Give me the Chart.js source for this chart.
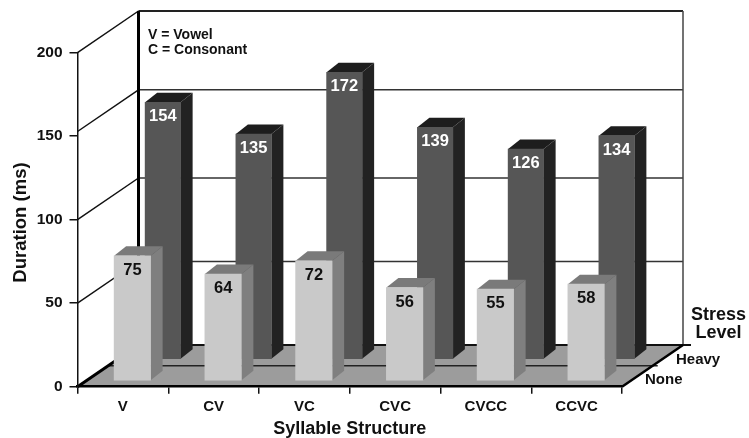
<!DOCTYPE html>
<html>
<head>
<meta charset="utf-8">
<title>Duration by syllable structure</title>
<style>
  html, body { margin: 0; padding: 0; background: #fff; }
  canvas { display: block; }
</style>
<script src="https://cdn.jsdelivr.net/npm/chart.js@4/dist/chart.umd.min.js"></script>
</head>
<body>
<div style="width:749px;height:438px"><canvas id="chart" width="749" height="438"></canvas></div>
<script>
const categories = ['V', 'CV', 'VC', 'CVC', 'CVCC', 'CCVC'];
const noneStress = [75, 64, 72, 56, 55, 58];
const heavyStress = [154, 135, 172, 139, 126, 134];
const keyLines = ['V = Vowel', 'C = Consonant'];

const FONT = '"Liberation Sans", Arial, sans-serif';
const INK = '#111';

// Offset of the back wall from the front plane
const WALL_DX = 61;
const WALL_DY = -41.7;

// Each row sits at a fraction of the floor depth; bars share the same extrusion
const rows = [
  { dx: 9.5, dy: -5.7, front: '#c9c9c9', side: '#7f7f7f', top: '#7a7a7a', text: '#111' },
  { dx: 40, dy: -27.2, front: '#565656', side: '#222222', top: '#1d1d1d', text: '#fff' },
];
const BAR_DX = 12;
const BAR_DY = -9.5;

// The 150 gridline is drawn slightly above its tick
const wallLift = { 150: -4.7 };

function poly(ctx, pts) {
  ctx.beginPath();
  pts.forEach((p, i) => (i ? ctx.lineTo(p[0], p[1]) : ctx.moveTo(p[0], p[1])));
  ctx.closePath();
}

function line(ctx, x0, y0, x1, y1, color, width) {
  ctx.strokeStyle = color;
  ctx.lineWidth = width;
  ctx.beginPath();
  ctx.moveTo(x0, y0);
  ctx.lineTo(x1, y1);
  ctx.stroke();
}

// Back wall, side wall grid and floor, all hung off the value scale
const room = {
  id: 'room',
  beforeDraw(chart) {
    const { ctx, chartArea: a, scales: { y } } = chart;
    const y0 = y.getPixelForValue(0);
    const yTop = y.getPixelForValue(y.max);
    ctx.save();

    y.ticks.forEach(t => {
      const py = y.getPixelForValue(t.value) + (wallLift[t.value] || 0);
      if (t.value > 0) {
        line(ctx, a.left, py, a.left + WALL_DX, py + WALL_DY, '#111', 1.5);
        line(ctx, a.left + WALL_DX, py + WALL_DY, a.right + WALL_DX, py + WALL_DY,
          t.value === y.max ? '#222' : '#333', t.value === y.max ? 2 : 1.5);
      }
    });
    line(ctx, a.left + WALL_DX, yTop + WALL_DY, a.left + WALL_DX, y0 + WALL_DY, '#000', 3);
    line(ctx, a.right + WALL_DX, yTop + WALL_DY, a.right + WALL_DX, y0 + WALL_DY, '#444', 1.5);

    poly(ctx, [
      [a.left, y0],
      [a.right, y0],
      [a.right + WALL_DX, y0 + WALL_DY],
      [a.left + WALL_DX, y0 + WALL_DY],
    ]);
    ctx.fillStyle = '#9c9c9c';
    ctx.fill();

    // Row divider on the floor, running a little past the right edge
    const midDy = -21;
    const midDx = midDy * WALL_DX / WALL_DY;
    line(ctx, a.left + midDx, y0 + midDy, a.right + midDx + 5, y0 + midDy, '#222', 1.5);

    line(ctx, a.left + WALL_DX, y0 + WALL_DY, a.right + WALL_DX + 8, y0 + WALL_DY, '#111', 2);
    line(ctx, a.left, y0, a.left + WALL_DX, y0 + WALL_DY, '#000', 3);
    line(ctx, a.right, y0, a.right + WALL_DX, y0 + WALL_DY, '#000', 2.5);
    ctx.restore();
  },
};

// Shifts each dataset back to its row and adds the extruded faces and value labels
const extrude = {
  id: 'extrude',
  beforeDatasetDraw(chart, args) {
    const { ctx } = chart;
    const row = rows[args.index];
    ctx.save();
    ctx.translate(row.dx, row.dy);
    args.meta.data.forEach(bar => {
      const l = bar.x - bar.width / 2;
      const r = bar.x + bar.width / 2;
      poly(ctx, [[r, bar.base], [r + BAR_DX, bar.base + BAR_DY], [r + BAR_DX, bar.y + BAR_DY], [r, bar.y]]);
      ctx.fillStyle = row.side;
      ctx.fill();
      poly(ctx, [[l, bar.y], [l + BAR_DX, bar.y + BAR_DY], [r + BAR_DX, bar.y + BAR_DY], [r, bar.y]]);
      ctx.fillStyle = row.top;
      ctx.fill();
    });
  },
  afterDatasetDraw(chart, args) {
    const { ctx } = chart;
    const row = rows[args.index];
    const values = chart.data.datasets[args.index].data;
    ctx.fillStyle = row.text;
    ctx.font = 'bold 16.5px ' + FONT;
    ctx.textAlign = 'center';
    ctx.textBaseline = 'middle';
    args.meta.data.forEach((bar, i) => ctx.fillText(String(values[i]), bar.x, bar.y + 14.5));
    ctx.restore();
  },
};

// Key, depth axis labels and titles placed off the scale boxes
const notes = {
  id: 'notes',
  afterDraw(chart) {
    const { ctx } = chart;
    ctx.save();
    ctx.fillStyle = INK;
    ctx.textBaseline = 'middle';

    ctx.textAlign = 'left';
    ctx.font = 'bold 14px ' + FONT;
    keyLines.forEach((t, i) => ctx.fillText(t, 148, 35 + i * 15));

    ctx.font = 'bold 15px ' + FONT;
    ctx.fillText(chart.data.datasets[1].label, 676, 360);
    ctx.fillText(chart.data.datasets[0].label, 645, 380);

    ctx.textAlign = 'center';
    ctx.font = 'bold 18px ' + FONT;
    ctx.fillText('Stress', 718.5, 315);
    ctx.fillText('Level', 718.5, 333);

    ctx.translate(21, 222.5);
    ctx.rotate(-Math.PI / 2);
    ctx.font = 'bold 18.5px ' + FONT;
    ctx.fillText('Duration (ms)', 0, 0);
    ctx.restore();
  },
};

new Chart(document.getElementById('chart'), {
  type: 'bar',
  data: {
    labels: categories,
    datasets: [
      { label: 'None', data: noneStress, backgroundColor: rows[0].front, barThickness: 36.5, clip: false },
      { label: 'Heavy', data: heavyStress, backgroundColor: rows[1].front, barThickness: 35.5, clip: false },
    ],
  },
  options: {
    responsive: false,
    animation: false,
    devicePixelRatio: 1,
    layout: { padding: { top: 52.7, right: 127, left: 0, bottom: 0 } },
    plugins: { legend: { display: false }, tooltip: { enabled: false } },
    scales: {
      x: {
        stacked: true,
        afterFit: s => { s.height = 51.3; },
        border: { color: '#000', width: 2.5 },
        grid: { drawOnChartArea: false, color: '#111', lineWidth: 1.5, tickLength: 7 },
        ticks: { color: INK, font: { family: FONT, weight: 'bold', size: 15 }, padding: 4, maxRotation: 0 },
        title: {
          display: true,
          text: 'Syllable Structure',
          color: INK,
          font: { family: FONT, weight: 'bold', size: 18 },
          padding: { top: 0, bottom: -1.5 },
        },
      },
      y: {
        min: 0,
        max: 200,
        afterFit: s => { s.width = 77.5; },
        border: { color: '#111', width: 1.5 },
        grid: { drawOnChartArea: false, color: '#111', lineWidth: 1.5, tickLength: 8 },
        ticks: { stepSize: 50, color: INK, font: { family: FONT, weight: 'bold', size: 15.5 }, padding: 7 },
      },
    },
  },
  plugins: [room, extrude, notes],
});
</script>
</body>
</html>
